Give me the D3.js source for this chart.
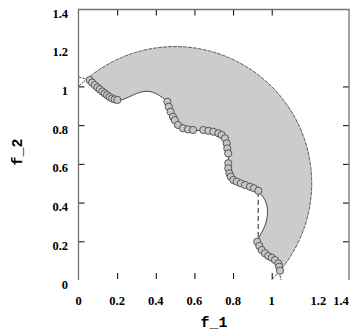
<!DOCTYPE html>
<html>
<head>
<meta charset="utf-8">
<script src="https://cdn.jsdelivr.net/npm/d3@7"></script>
<style>
    body { margin: 0; background: #fff; }
</style>
</head>
<body>
<div id="chart"></div>
<script>
// tick labels and tick marks
var tickLabels = [0, 0.2, 0.4, 0.6, 0.8, 1, 1.2, 1.4];
var tickMarks = [0.2, 0.4, 0.6, 0.8, 1];

// outer constraint circle
var outerCenter = [0.5, 0.5];
var outerRadius = 0.7071;
var outerEnds = [[1, 0], [0, 1]];

// inner wavy boundary
var innerCurve = [
    [0.045, 1.037], [0.07, 1.015], [0.10, 0.99], [0.13, 0.962], [0.16, 0.942],
    [0.19, 0.93], [0.22, 0.93], [0.26, 0.945], [0.30, 0.963], [0.35, 0.975],
    [0.39, 0.968], [0.42, 0.952], [0.45, 0.928], [0.465, 0.885], [0.48, 0.845],
    [0.50, 0.812], [0.53, 0.787], [0.57, 0.774], [0.62, 0.772], [0.67, 0.772],
    [0.71, 0.764], [0.745, 0.745], [0.765, 0.72], [0.774, 0.68], [0.776, 0.63],
    [0.778, 0.58], [0.787, 0.54], [0.81, 0.51], [0.85, 0.49], [0.89, 0.472],
    [0.93, 0.455], [0.958, 0.425], [0.976, 0.38], [0.977, 0.33], [0.965, 0.28],
    [0.945, 0.24], [0.928, 0.205], [0.935, 0.178], [0.958, 0.148], [0.99, 0.118],
    [1.015, 0.09], [1.032, 0.065], [1.037, 0.045]
];
var innerStart = [[0, 1.049], [0.045, 1.037]];
var innerEnd = [[1.037, 0.045], [1.049, 0]];
var gapLine = [[0.93, 0.455], [0.93, 0.205]];

// solutions found
var paretoPoints = [
    [0.058, 1.033], [0.07, 1.02], [0.084, 1.007], [0.098, 0.995], [0.110, 0.985],
    [0.123, 0.974], [0.136, 0.964], [0.148, 0.955], [0.161, 0.946], [0.174, 0.938],
    [0.187, 0.933], [0.201, 0.930],
    [0.46, 0.921], [0.467, 0.895], [0.477, 0.869], [0.489, 0.843], [0.498, 0.826],
    [0.515, 0.801], [0.541, 0.784], [0.567, 0.778], [0.593, 0.775],
    [0.646, 0.775], [0.672, 0.771], [0.698, 0.766], [0.724, 0.758], [0.741, 0.749],
    [0.758, 0.732], [0.767, 0.706], [0.770, 0.680], [0.775, 0.654],
    [0.775, 0.603], [0.775, 0.577], [0.781, 0.551], [0.788, 0.534], [0.801, 0.517],
    [0.819, 0.508], [0.840, 0.499], [0.862, 0.491], [0.888, 0.482], [0.908, 0.474],
    [0.931, 0.461],
    [0.925, 0.198], [0.936, 0.176], [0.948, 0.155], [0.965, 0.138], [0.982, 0.124],
    [1.0, 0.115], [1.017, 0.103], [1.034, 0.086], [1.039, 0.069], [1.043, 0.048]
];

var width = 351;
var height = 333;

var svg = d3.select("#chart").append("svg")
    .attr("width", width)
    .attr("height", height);

var x = d3.scaleLinear().domain([0, 1.4]).range([78.5, 349]);
var y = d3.scaleLinear().domain([0, 1.4]).range([280, 9]);

var cx = x(outerCenter[0]);
var cy = y(outerCenter[1]);
var rPx = x(outerCenter[0] + outerRadius) - cx;

function ang(p) {
    return Math.atan2(y(p[1]) - cy, x(p[0]) - cx);
}

var curve = d3.curveCatmullRom.alpha(0.5);

// filled feasible region
var region = d3.path();
d3.line().x(function(d) { return x(d[0]); }).y(function(d) { return y(d[1]); })
    .curve(curve).context(region)(innerCurve);
region.arc(cx, cy, rPx, ang(innerCurve[innerCurve.length - 1]), ang(innerCurve[0]), true);
region.closePath();

svg.append("path")
    .attr("d", region.toString())
    .attr("fill", "#cccccc")
    .attr("stroke", "none");

// outer arc, dashed
var outer = d3.path();
outer.arc(cx, cy, rPx, ang(outerEnds[0]), ang(outerEnds[1]), true);
svg.append("path")
    .attr("d", outer.toString())
    .attr("fill", "none")
    .attr("stroke", "#333")
    .attr("stroke-width", 0.8)
    .attr("stroke-dasharray", "4,1");

var line = d3.line()
    .x(function(d) { return x(d[0]); })
    .y(function(d) { return y(d[1]); });

svg.append("path")
    .attr("d", line.curve(curve)(innerCurve))
    .attr("fill", "none")
    .attr("stroke", "#333")
    .attr("stroke-width", 0.9);

line.curve(d3.curveLinear);
[innerStart, innerEnd].forEach(function(seg) {
    svg.append("path")
        .attr("d", line(seg))
        .attr("fill", "none")
        .attr("stroke", "#333")
        .attr("stroke-width", 0.8)
        .attr("stroke-dasharray", "3,1");
});

svg.append("path")
    .attr("d", line(gapLine))
    .attr("fill", "none")
    .attr("stroke", "#222")
    .attr("stroke-width", 1)
    .attr("stroke-dasharray", "5,3");

svg.selectAll(".pt")
    .data(paretoPoints)
    .enter()
    .append("circle")
    .attr("class", "pt")
    .attr("cx", function(d) { return x(d[0]); })
    .attr("cy", function(d) { return y(d[1]); })
    .attr("r", 3.6)
    .attr("fill", "#c6c6c6")
    .attr("stroke", "#4a4a4a")
    .attr("stroke-width", 0.9);

// axes: ticks point inward on all four sides
function ticks(axis, tx, ty) {
    var g = svg.append("g")
        .attr("transform", "translate(" + tx + "," + ty + ")")
        .call(axis.tickValues(tickMarks).tickSize(-6).tickFormat(""));
    g.select(".domain").remove();
    g.selectAll(".tick line").attr("stroke", "#000").attr("stroke-width", 1);
}
ticks(d3.axisBottom(x), 0, 279);
ticks(d3.axisTop(x), 0, 9.5);
ticks(d3.axisLeft(y), 78.5, 0);
ticks(d3.axisRight(y), 349, 0);

// frame, no bottom line
svg.append("path")
    .attr("d", "M" + x(0) + "," + y(0) + "V" + 9.5 + "H" + x(1.4) + "V" + y(0))
    .attr("fill", "none")
    .attr("stroke", "#707070")
    .attr("stroke-width", 1.3);

svg.selectAll(".ylab")
    .data(tickLabels)
    .enter()
    .append("text")
    .attr("class", "ylab")
    .attr("x", 68)
    .attr("y", function(d) { return y(d) + 8.5; })
    .attr("text-anchor", "end")
    .attr("font-family", "Liberation Serif")
    .attr("font-weight", "bold")
    .attr("font-size", "12.5px")
    .text(function(d) { return d; });

svg.selectAll(".xlab")
    .data(tickLabels)
    .enter()
    .append("text")
    .attr("class", "xlab")
    .attr("x", function(d) {
        if (d === 1.2) return x(d) + 8;
        if (d === 1.4) return x(d) - 8;
        return x(d);
    })
    .attr("y", 305)
    .attr("text-anchor", "middle")
    .attr("font-family", "Liberation Serif")
    .attr("font-weight", "bold")
    .attr("font-size", "12.5px")
    .text(function(d) { return d; });

svg.append("text")
    .attr("x", 214)
    .attr("y", 327)
    .attr("text-anchor", "middle")
    .attr("font-family", "Liberation Mono")
    .attr("font-weight", "bold")
    .attr("font-size", "15px")
    .text("f_1");

svg.append("text")
    .attr("transform", "translate(22,152) rotate(-90)")
    .attr("text-anchor", "middle")
    .attr("font-family", "Liberation Mono")
    .attr("font-weight", "bold")
    .attr("font-size", "15px")
    .text("f_2");
</script>
</body>
</html>
